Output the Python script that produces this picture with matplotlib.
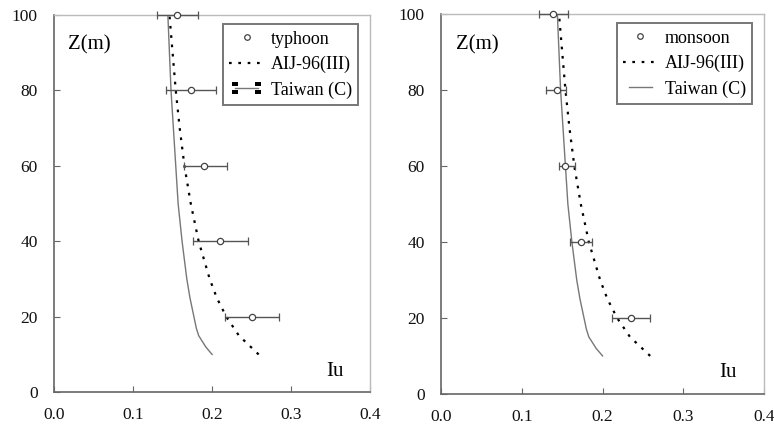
import matplotlib
matplotlib.use("Agg")
import matplotlib.pyplot as plt
from matplotlib.lines import Line2D
from matplotlib.path import Path
from matplotlib.legend_handler import HandlerLine2D

plt.rcParams['font.family'] = ['Liberation Serif', 'DejaVu Serif']

# code curves (height in m, turbulence intensity)
z_aij = [10, 15, 20, 25, 30, 40, 50, 60, 70, 80, 90, 100]
iu_aij = [0.259, 0.234, 0.218, 0.206, 0.197, 0.183, 0.173, 0.165, 0.159, 0.154, 0.150, 0.146]
z_tw = [10, 12, 15, 17, 20, 25, 30, 35, 40, 50, 60, 70, 80, 90, 100]
iu_tw = [0.200, 0.192, 0.183, 0.180, 0.177, 0.172, 0.168, 0.165, 0.162, 0.157, 0.154, 0.151, 0.148, 0.146, 0.144]

# measured data
z_obs = [20, 40, 60, 80, 100]
iu_typhoon = [0.250, 0.210, 0.190, 0.173, 0.155]
lo_typhoon = [0.217, 0.176, 0.164, 0.142, 0.130]
hi_typhoon = [0.285, 0.246, 0.219, 0.205, 0.182]
iu_monsoon = [0.235, 0.173, 0.154, 0.143, 0.139]
lo_monsoon = [0.212, 0.160, 0.146, 0.130, 0.121]
hi_monsoon = [0.259, 0.187, 0.166, 0.155, 0.157]

# two stacked little squares (the odd end marks on the left legend)
sq = [(-1, 0.6), (1, 0.6), (1, 2.2), (-1, 2.2), (-1, 0.6),
      (-1, -2.2), (1, -2.2), (1, -0.6), (-1, -0.6), (-1, -2.2)]
codes = [Path.MOVETO, Path.LINETO, Path.LINETO, Path.LINETO, Path.CLOSEPOLY] * 2
end_marks = Path(sq, codes)

fig = plt.figure(figsize=(7.74, 4.30), dpi=100)
ax1 = fig.add_axes([0.070, 0.088, 0.408, 0.877])
ax2 = fig.add_axes([0.570, 0.084, 0.417, 0.883])

panels = [(ax1, 'typhoon', iu_typhoon, lo_typhoon, hi_typhoon, True),
          (ax2, 'monsoon', iu_monsoon, lo_monsoon, hi_monsoon, False)]

for ax, name, iu, lo, hi, marks in panels:
    xerr = [[c - l for c, l in zip(iu, lo)], [h - c for c, h in zip(iu, hi)]]
    eb = ax.errorbar(iu, z_obs, xerr=xerr, fmt='o', ms=4.5, mfc='white', mec='#444444',
                     mew=0.9, ecolor='#555555', elinewidth=1.0, capsize=3, capthick=1.0,
                     zorder=3)
    for art in eb.get_children():
        art.set_clip_on(False)
    ax.plot(iu_aij, z_aij, color='black', lw=1.6, ls=(0, (1.2, 3.0)))
    ax.plot(iu_tw, z_tw, color='#777777', lw=1.0)

    ax.set_xlim(0, 0.4)
    ax.set_ylim(0, 100)
    ax.set_xticks([0.0, 0.1, 0.2, 0.3, 0.4])
    ax.set_xticklabels(['0.0', '0.1', '0.2', '0.3', '0.4'])
    ax.set_yticks([0, 20, 40, 60, 80, 100])
    ax.tick_params(direction='in', length=4, color='#666666', labelsize=12.5,
                   labelcolor='#111111')
    ax.tick_params(axis='x', pad=11)
    ax.tick_params(axis='y', pad=12)
    for s in ['left', 'bottom']:
        ax.spines[s].set_color('#666666')
        ax.spines[s].set_linewidth(1.2)
    for s in ['top', 'right']:
        ax.spines[s].set_color('#bbbbbb')
        ax.spines[s].set_linewidth(1.0)

    ax.text(0.045, 0.92, 'Z(m)', transform=ax.transAxes, fontsize=15, va='center')
    ax.text(0.86, 0.055, 'Iu', transform=ax.transAxes, fontsize=15, va='center')

    h_obs = Line2D([], [], ls='none', marker='o', ms=4, mfc='white', mec='#444444', mew=0.9)
    h_aij = Line2D([], [], color='black', lw=1.6, ls=(0, (1.2, 3.0)))
    if marks:
        h_tw = Line2D([], [], color='#777777', lw=1.0, marker=end_marks, ms=9,
                      mfc='black', mec='black', mew=0)
    else:
        h_tw = Line2D([], [], color='#777777', lw=1.0)
    leg = ax.legend([h_obs, h_aij, h_tw], [name, 'AIJ-96(III)', 'Taiwan (C)'],
                    loc='upper right', bbox_to_anchor=(0.975, 0.985), fontsize=13,
                    frameon=True, fancybox=False, handlelength=1.9, borderpad=0.35,
                    labelspacing=0.45, handletextpad=0.4, borderaxespad=0.2,
                    handler_map={h_tw: HandlerLine2D(numpoints=2)})
    leg.get_frame().set_edgecolor('#555555')
    leg.get_frame().set_linewidth(1.4)

fig.savefig('out.png', dpi=100)
